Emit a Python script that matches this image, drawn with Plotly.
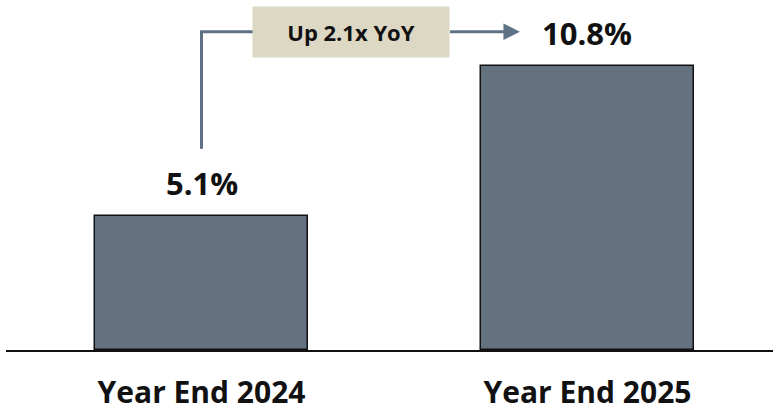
import plotly.graph_objects as go

categories = ["Year End 2024", "Year End 2025"]
values = [5.1, 10.8]
value_labels = ["5.1%", "10.8%"]
callout_text = "Up 2.1x YoY"

BAR = "#64717E"
ARROW = "#5F7185"
BOX = "#DDD8C4"
FONT = "Open Sans"

xs = list(range(len(categories)))
fig = go.Figure()
fig.add_trace(go.Bar(
    x=xs, y=values, width=0.552,
    marker=dict(color=BAR, line=dict(color="#111111", width=1.5)),
    hoverinfo="skip",
))

for x, v, t in zip(xs, values, value_labels):
    fig.add_annotation(x=x, y=v, text=f"<b>{t}</b>", showarrow=False,
                       yanchor="bottom", yshift=10,
                       font=dict(family=FONT, size=31, color="#111111"))

# connector: vertical line above first label, then horizontal to box, then arrow to second label
y_top = values[1] + 1.3
fig.add_shape(type="line", xref="x", yref="y", x0=xs[0], x1=xs[0],
              y0=values[0] + 2.55, y1=y_top, line=dict(color=ARROW, width=3))
fig.add_shape(type="line", xref="x", yref="y", x0=xs[0] - 0.004, x1=0.14,
              y0=y_top, y1=y_top, line=dict(color=ARROW, width=3))
fig.add_annotation(x=0.825, y=y_top, ax=0.64, ay=y_top, xref="x", yref="y",
                   axref="x", ayref="y", text="", showarrow=True,
                   arrowhead=2, arrowsize=1.1, arrowwidth=3, arrowcolor=ARROW)
fig.add_annotation(x=0.387, y=y_top, xref="x", yref="y",
                   text=f"<b>{callout_text}</b>", showarrow=False,
                   bgcolor=BOX, width=196, height=50, borderpad=0,
                   font=dict(family=FONT, size=22, color="#111111"))

fig.update_layout(
    width=773, height=413,
    margin=dict(l=6, r=0, t=0, b=63),
    paper_bgcolor="white", plot_bgcolor="white",
    showlegend=False,
    bargap=0,
    xaxis=dict(range=[-0.5065, 1.4806], tickvals=xs, ticktext=[f"<b>{c}</b>" for c in categories],
               showgrid=False, zeroline=False, showline=True, linecolor="#111111", linewidth=2,
               ticks="", ticklabelstandoff=15, automargin=False,
               tickfont=dict(family=FONT, size=30, color="#111111"), fixedrange=True),
    yaxis=dict(range=[0, 13.31], visible=False, fixedrange=True, automargin=False),
)

fig.write_html("out.html")
